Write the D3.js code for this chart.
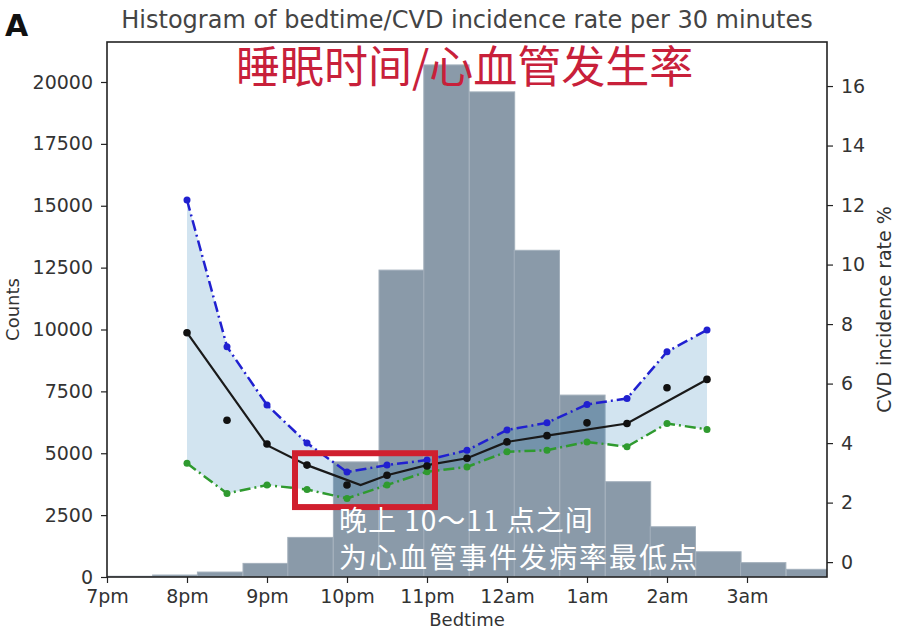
<!DOCTYPE html>
<html>
<head>
<meta charset="utf-8">
<script src="https://cdn.jsdelivr.net/npm/d3@7"></script>
<style>
  body { margin: 0; background: #fff; }
  svg { display: block; font-family: "DejaVu Sans", sans-serif; }
</style>
</head>
<body>
<div class="root"></div>
<script>
// x in hours since midnight of the first day (19 = 7pm, 24 = 12am)
const tickHours = [19, 20, 21, 22, 23, 24, 25, 26, 27];
const tickLabels = ['7pm', '8pm', '9pm', '10pm', '11pm', '12am', '1am', '2am', '3am'];
const countTicks = [0, 2500, 5000, 7500, 10000, 12500, 15000, 17500, 20000];
const rateTicks = [0, 2, 4, 6, 8, 10, 12, 14, 16];

// histogram
const binStarts = [19.00, 19.57, 20.13, 20.70, 21.26, 21.83, 22.40, 22.96,
                   23.53, 24.09, 24.66, 25.23, 25.79, 26.36, 26.92, 27.49];
const binWidth = 0.566;
const binCounts = [30, 80, 200, 550, 1600, 4650, 12400, 20690,
                   19600, 13200, 7350, 3850, 2030, 1020, 580, 310];

// incidence rate per half hour
const rateHours = [20, 20.5, 21, 21.5, 22, 22.5, 23, 23.5, 24, 24.5, 25, 25.5, 26, 26.5];
const rateUpper = [12.17, 7.24, 5.28, 4.0, 3.03, 3.26, 3.43, 3.76, 4.44, 4.68, 5.30, 5.50, 7.07, 7.80];
const rateMean = [7.71, 4.77, 3.97, 3.26, 2.59, 2.92, 3.23, 3.49, 4.04, 4.25, 4.68, 4.66, 5.86, 6.14];
const rateLower = [3.32, 2.31, 2.59, 2.44, 2.14, 2.59, 3.04, 3.20, 3.71, 3.76, 4.04, 3.88, 4.66, 4.46];

// smoothed trend
const trendHours = [20, 21, 21.5, 22.17, 22.5, 23, 23.5, 24, 24.5, 25.5, 26.5];
const trendRate = [7.71, 3.93, 3.26, 2.59, 2.92, 3.26, 3.49, 4.04, 4.25, 4.66, 6.14];

const W = 897, H = 631;
const plot = { left: 107, right: 827, top: 42, bottom: 577 };

const svg = d3.select('.root').append('svg')
  .attr('width', W)
  .attr('height', H);

const x = d3.scaleLinear().domain([19, 28]).range([plot.left, plot.right]);
const yCount = d3.scaleLinear().domain([0, 21616]).range([plot.bottom, plot.top]);
const yRate = d3.scaleLinear().domain([-0.5, 17.48]).range([plot.bottom, plot.top]);

svg.append('defs').append('clipPath').attr('id', 'clip')
  .append('rect')
  .attr('x', plot.left).attr('y', plot.top)
  .attr('width', plot.right - plot.left)
  .attr('height', plot.bottom - plot.top);

const g = svg.append('g').attr('clip-path', 'url(#clip)');

// bars
g.selectAll('.bar')
  .data(binCounts)
  .enter()
  .append('rect')
  .attr('class', 'bar')
  .attr('x', (d, i) => x(binStarts[i]))
  .attr('width', x(19 + binWidth) - x(19))
  .attr('y', d => yCount(d))
  .attr('height', d => yCount(0) - yCount(d))
  .attr('fill', '#8a9aa9')
  .attr('stroke', '#a3b0bc')
  .attr('stroke-width', 1);

// confidence band
const band = d3.area()
  .x((d, i) => x(rateHours[i]))
  .y0((d, i) => yRate(rateLower[i]))
  .y1(d => yRate(d));

g.append('path')
  .datum(rateUpper)
  .attr('d', band)
  .attr('fill', '#1f77b4')
  .attr('fill-opacity', 0.2);

const line = d3.line()
  .x((d, i) => x(rateHours[i]))
  .y(d => yRate(d));

const dashLines = [
  { vals: rateUpper, color: '#2020d0' },
  { vals: rateLower, color: '#2f9a2f' }
];

dashLines.forEach(s => {
  g.append('path')
    .datum(s.vals)
    .attr('d', line)
    .attr('fill', 'none')
    .attr('stroke', s.color)
    .attr('stroke-width', 2.5)
    .attr('stroke-dasharray', '11,4,2,4');
  g.selectAll(null)
    .data(s.vals)
    .enter()
    .append('circle')
    .attr('cx', (d, i) => x(rateHours[i]))
    .attr('cy', d => yRate(d))
    .attr('r', 3.5)
    .attr('fill', s.color);
});

// trend line
g.append('path')
  .datum(trendRate)
  .attr('d', d3.line().x((d, i) => x(trendHours[i])).y(d => yRate(d)))
  .attr('fill', 'none')
  .attr('stroke', '#1a1a1a')
  .attr('stroke-width', 2.2);

g.selectAll('.dot')
  .data(rateMean)
  .enter()
  .append('circle')
  .attr('class', 'dot')
  .attr('cx', (d, i) => x(rateHours[i]))
  .attr('cy', d => yRate(d))
  .attr('r', 3.8)
  .attr('fill', '#111');

// axes
const fontSize = '19px';
const styleAxis = sel => {
  sel.selectAll('text').attr('font-size', fontSize).attr('fill', '#333')
    .attr('font-family', '"DejaVu Sans", sans-serif');
  sel.selectAll('line').attr('stroke', '#222').attr('stroke-width', 1.2);
  sel.select('.domain').remove();
};

svg.append('g')
  .attr('transform', `translate(0,${plot.bottom})`)
  .call(d3.axisBottom(x).tickValues(tickHours).tickFormat((d, i) => tickLabels[i])
    .tickSize(6).tickPadding(7))
  .call(styleAxis);

svg.append('g')
  .attr('transform', `translate(${plot.left},0)`)
  .call(d3.axisLeft(yCount).tickValues(countTicks).tickFormat(d3.format('d'))
    .tickSize(6).tickPadding(8))
  .call(styleAxis);

svg.append('g')
  .attr('transform', `translate(${plot.right},0)`)
  .call(d3.axisRight(yRate).tickValues(rateTicks).tickSize(6).tickPadding(8))
  .call(styleAxis);

svg.append('rect')
  .attr('x', plot.left).attr('y', plot.top)
  .attr('width', plot.right - plot.left)
  .attr('height', plot.bottom - plot.top)
  .attr('fill', 'none')
  .attr('stroke', '#222')
  .attr('stroke-width', 1.6);

// labels
svg.append('text')
  .attr('x', (plot.left + plot.right) / 2)
  .attr('y', 28)
  .attr('text-anchor', 'middle')
  .attr('font-size', '24px')
  .attr('fill', '#444')
  .text('Histogram of bedtime/CVD incidence rate per 30 minutes');

svg.append('text')
  .attr('x', 5).attr('y', 36)
  .attr('font-size', '30px')
  .attr('font-weight', 'bold')
  .attr('fill', '#111')
  .text('A');

svg.append('text')
  .attr('x', (plot.left + plot.right) / 2)
  .attr('y', 626)
  .attr('text-anchor', 'middle')
  .attr('font-size', '18px')
  .attr('fill', '#333')
  .text('Bedtime');

svg.append('text')
  .attr('transform', `translate(19,${(plot.top + plot.bottom) / 2}) rotate(-90)`)
  .attr('text-anchor', 'middle')
  .attr('font-size', '18px')
  .attr('fill', '#333')
  .text('Counts');

svg.append('text')
  .attr('transform', `translate(891,${(plot.top + plot.bottom) / 2}) rotate(-90)`)
  .attr('text-anchor', 'middle')
  .attr('font-size', fontSize)
  .attr('fill', '#333')
  .text('CVD incidence rate %');

// annotations
svg.append('rect')
  .attr('x', x(21.35)).attr('y', yRate(3.66))
  .attr('width', x(23.1) - x(21.35))
  .attr('height', yRate(1.85) - yRate(3.66))
  .attr('fill', 'none')
  .attr('stroke', '#d01f2e')
  .attr('stroke-width', 6);

const cjk = '"Noto Sans CJK SC", sans-serif';
svg.append('text')
  .attr('x', 236).attr('y', 83)
  .attr('font-family', cjk)
  .attr('font-size', '44px')
  .attr('fill', '#c8203a')
  .text('睡眠时间/心血管发生率');

svg.append('text')
  .attr('x', 339).attr('y', 531)
  .attr('font-family', cjk)
  .attr('font-size', '28px')
  .attr('letter-spacing', '1px')
  .attr('fill', '#fff')
  .text('晚上 10～11 点之间');

svg.append('text')
  .attr('x', 339).attr('y', 568)
  .attr('font-family', cjk)
  .attr('font-size', '28px')
  .attr('letter-spacing', '2px')
  .attr('fill', '#fff')
  .text('为心血管事件发病率最低点');
</script>
</body>
</html>
